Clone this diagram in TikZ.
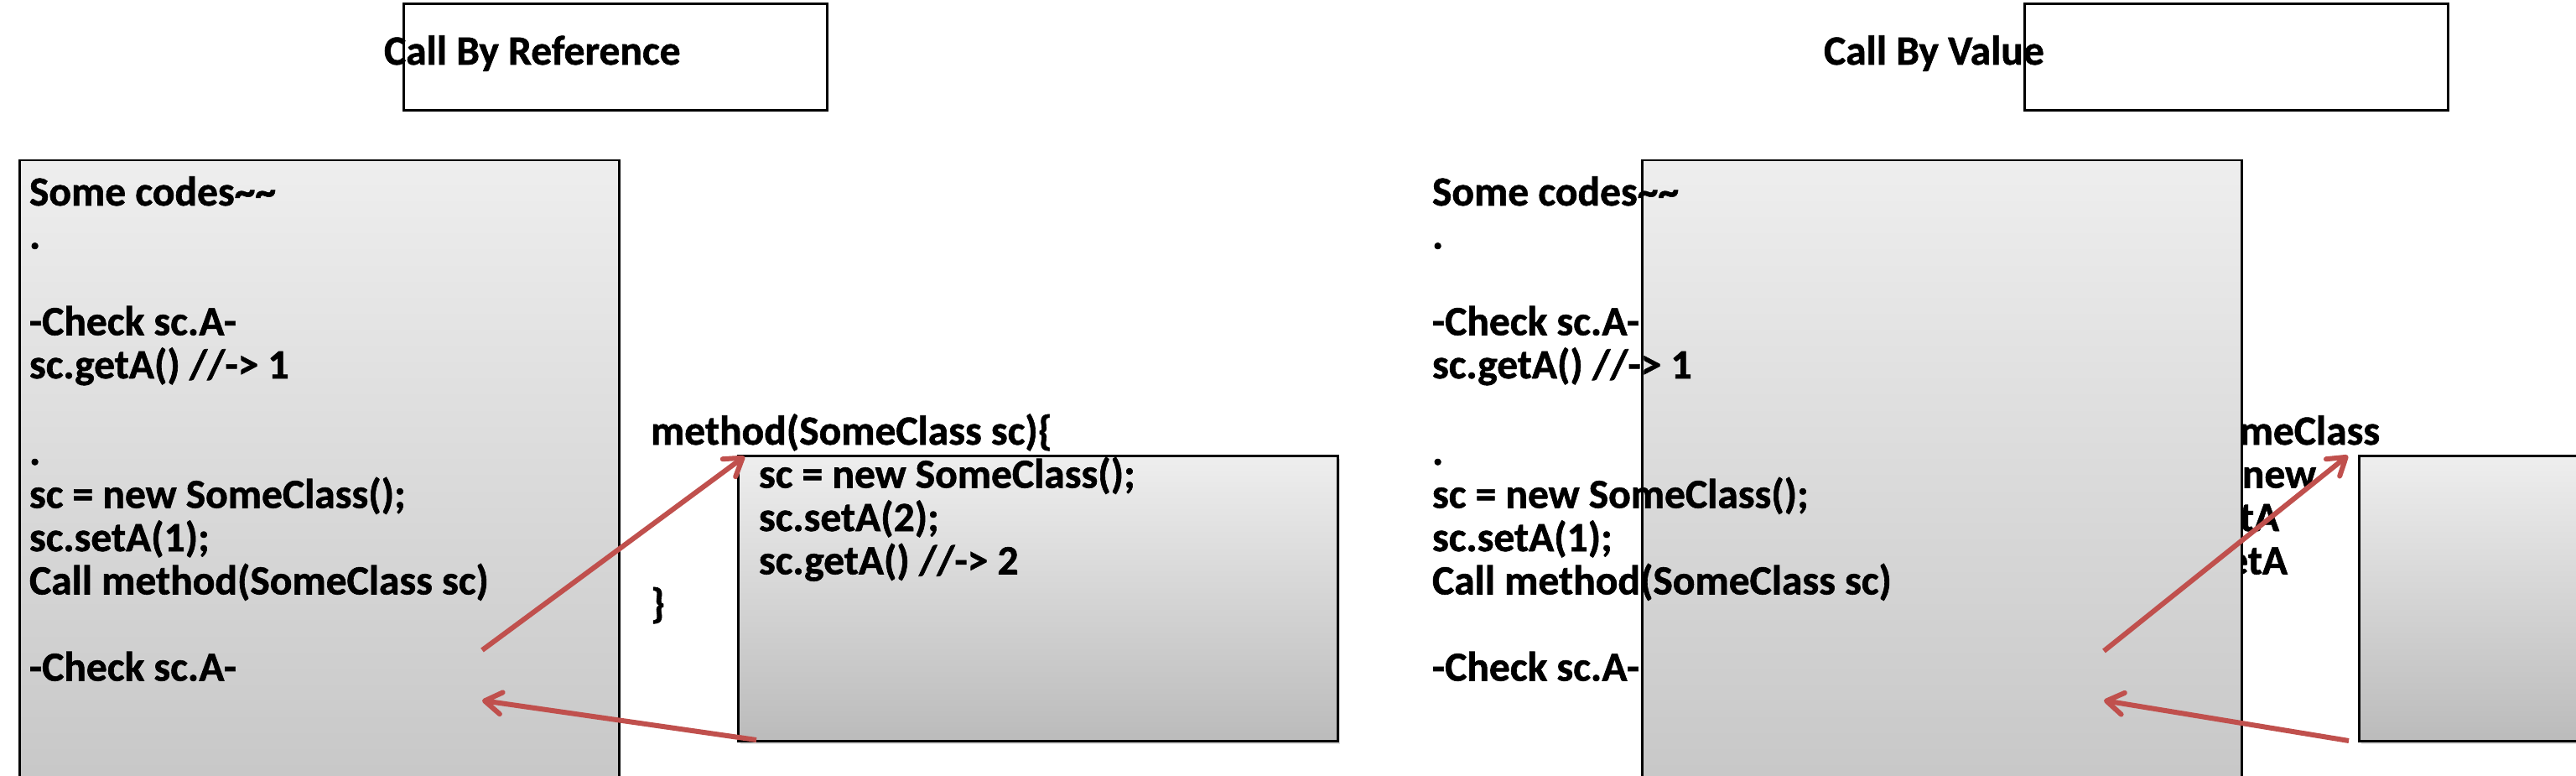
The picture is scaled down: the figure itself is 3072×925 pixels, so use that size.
\documentclass[tikz,border=0pt]{standalone}
\usepackage{fontspec}
\setmainfont{Carlito}[BoldFeatures={FakeBold=1.2}]
\usetikzlibrary{arrows.meta,shadows}
\definecolor{arrowred}{RGB}{192,80,77}
\definecolor{boxtop}{RGB}{238,238,238}
\definecolor{boxbot}{RGB}{187,187,187}
\begin{document}
\begin{tikzpicture}[x=1pt,y=-1pt,
  txt/.style={font=\fontsize{49.5}{58}\selectfont\bfseries, inner sep=0pt, outer sep=0pt, anchor=base west},
  txtr/.style={txt, anchor=base east},
  titlebox/.style={draw=black, line width=3pt, minimum width=505pt, minimum height=127pt, anchor=north west, inner sep=0pt},
  bigbox/.style={draw=black, line width=2.5pt, top color=boxtop, bottom color=boxbot, minimum width=715pt, minimum height=980pt, anchor=north west, inner sep=0pt},
  innerbox/.style={draw=black, line width=3pt, top color=boxtop, bottom color=boxbot, minimum width=715pt, minimum height=340pt, anchor=north west, inner sep=0pt,
    drop shadow={shadow xshift=2pt, shadow yshift=-3pt, opacity=0.25}},
  redarrow/.style={draw=arrowred, line width=6pt, -{Straight Barb[length=20pt,width=26pt,round]}}
]
\useasboundingbox (0,0) rectangle (3072,925);
\clip (0,0) rectangle (3072,925);
\fill[white] (0,0) rectangle (3072,925);

% ---------------- left panel: Call By Reference ----------------
\node[bigbox] (main1) at (22,190) {};
\node[innerbox] (inner1) at (879,542) {};

\node[txt] (t1a) at (458,77) {Call By Reference};
\node[titlebox] (tbox1) at (480,3) {};

\node[txt] (l1a) at (35,245) {Some codes\char`~\char`~};
\node[txt] (l1b) at (35,296.5) {.};
\node[txt] (l1c) at (35,399.5) {-Check sc.A-};
\node[txt] (l1d) at (35,451) {sc.getA() //-> 1};
\node[txt] (l1e) at (35,554) {.};
\node[txt] (l1f) at (35,605.5) {sc = new SomeClass();};
\node[txt] (l1g) at (35,657) {sc.setA(1);};
\node[txt] (l1h) at (35,708.5) {Call method(SomeClass sc)};
\node[txt] (l1i) at (35,811.5) {-Check sc.A-};

\node[txt] (m1a) at (776,530) {method(SomeClass sc)\{};
\node[txt] (m1b) at (905,581.5) {sc = new SomeClass();};
\node[txt] (m1c) at (905,633) {sc.setA(2);};
\node[txt] (m1d) at (905,684.5) {sc.getA() //-> 2};
\node[txt] (m1e) at (776,736) {\}};

\coordinate (c1s) at (575,775);
\coordinate (c1e) at (888,544);
\coordinate (r1s) at (902,882);
\coordinate (r1e) at (575,835);
\draw[redarrow] (c1s) -- (c1e);
\draw[redarrow] (r1s) -- (r1e);

% ---------------- right panel: Call By Value ----------------
\node[txtr] (m2a) at (2838,530) {method(SomeClass};
\node[txtr] (m2b) at (2762,581.5) {sc = new};
\node[txtr] (m2c) at (2718,633) {sc.setA};
\node[txtr] (m2d) at (2728,684.5) {sc.getA};

\node[bigbox] (main2) at (1957,190) {};

\node[txt] (t2a) at (2175,77) {Call By Value};
\node[titlebox] (tbox2) at (2413,3) {};

\node[txt] (l2a) at (1708,245) {Some codes\char`~\char`~};
\node[txt] (l2b) at (1708,296.5) {.};
\node[txt] (l2c) at (1708,399.5) {-Check sc.A-};
\node[txt] (l2d) at (1708,451) {sc.getA() //-> 1};
\node[txt] (l2e) at (1708,554) {.};
\node[txt] (l2f) at (1708,605.5) {sc = new SomeClass();};
\node[txt] (l2g) at (1708,657) {sc.setA(1);};
\node[txt] (l2h) at (1708,708.5) {Call method(SomeClass sc)};
\node[txt] (l2i) at (1708,811.5) {-Check sc.A-};

\node[innerbox] (inner2) at (2812,542) {};

\coordinate (c2s) at (2509,776);
\coordinate (c2e) at (2800,543);
\coordinate (r2s) at (2801,883);
\coordinate (r2e) at (2509,835);
\draw[redarrow] (c2s) -- (c2e);
\draw[redarrow] (r2s) -- (r2e);
\end{tikzpicture}
\end{document}
